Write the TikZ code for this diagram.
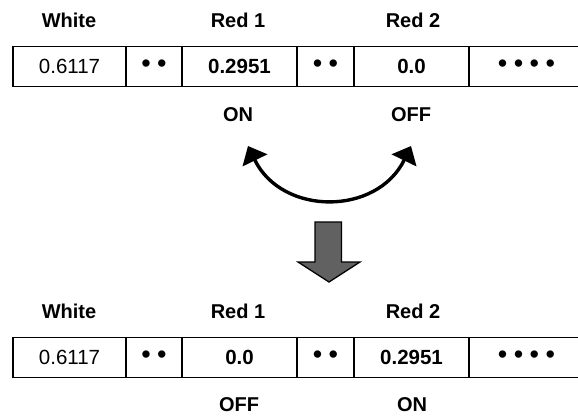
\documentclass[tikz,border=0pt]{standalone}
\usepackage{fontspec}
\setmainfont{Liberation Sans}
\usetikzlibrary{arrows.meta}
\begin{document}
\begin{tikzpicture}[x=1pt,y=-1pt,
  cell/.style={draw, line width=1.6pt, minimum height=40pt, inner sep=0pt,
    outer sep=0pt, anchor=west, font=\fontsize{20.5}{24}\selectfont},
  lbl/.style={font=\fontsize{20}{24}\selectfont\bfseries, inner sep=0pt},
  dotsfont/.style={font=\fontsize{27}{27}\selectfont},
  swaparrow/.style={line width=3.4pt,
    {Triangle[length=16pt,width=27pt]}-{Triangle[length=16pt,width=27pt]}},
  bigarrow/.style={draw, line width=1.3pt, fill=black!62, line join=miter}]
\useasboundingbox (0,0) rectangle (578,415);
% ---------- top row ----------
\node[lbl] (tw) at (69,20) {White};
\node[lbl] (tr1) at (238,20) {Red 1};
\node[lbl] (tr2) at (413,20) {Red 2};
\node[cell, minimum width=113pt] (a1) at (13,66.6) {0.6117};
\node[cell, dotsfont, minimum width=56pt] (a2) at (a1.east) {•\hspace{6.5pt}•};
\node[cell, minimum width=115pt] (a3) at (a2.east) {\bfseries 0.2951};
\node[cell, dotsfont, minimum width=57pt] (a4) at (a3.east) {•\hspace{6.5pt}•};
\node[cell, minimum width=115pt] (a5) at (a4.east) {\bfseries 0.0};
\node[cell, dotsfont, minimum width=115pt] (a6) at (a5.east) {•\hspace{6.5pt}•\hspace{6.5pt}•\hspace{6.5pt}•};
\node[lbl] (ton) at (238,115) {ON};
\node[lbl] (toff) at (411,115) {OFF};
% ---------- swap arrow ----------
\coordinate (cl) at (248,146);
\coordinate (cr) at (411,146);
\draw[swaparrow] (cl) .. controls (282,216) and (377,216) .. (cr);
% ---------- big down arrow ----------
\draw[bigarrow] (315,222) -- (341.5,222) -- (341.5,262) -- (360,262)
  -- (329,282) -- (298,262) -- (315,262) -- cycle;
% ---------- bottom row ----------
\node[lbl] (bw) at (69,311) {White};
\node[lbl] (br1) at (238,311) {Red 1};
\node[lbl] (br2) at (413,311) {Red 2};
\node[cell, minimum width=113pt] (b1) at (13,357.5) {0.6117};
\node[cell, dotsfont, minimum width=56pt] (b2) at (b1.east) {•\hspace{6.5pt}•};
\node[cell, minimum width=115pt] (b3) at (b2.east) {\bfseries 0.0};
\node[cell, dotsfont, minimum width=57pt] (b4) at (b3.east) {•\hspace{6.5pt}•};
\node[cell, minimum width=115pt] (b5) at (b4.east) {\bfseries 0.2951};
\node[cell, dotsfont, minimum width=115pt] (b6) at (b5.east) {•\hspace{6.5pt}•\hspace{6.5pt}•\hspace{6.5pt}•};
\node[lbl] (boff) at (239,405) {OFF};
\node[lbl] (bon) at (412,405) {ON};
\end{tikzpicture}
\end{document}
